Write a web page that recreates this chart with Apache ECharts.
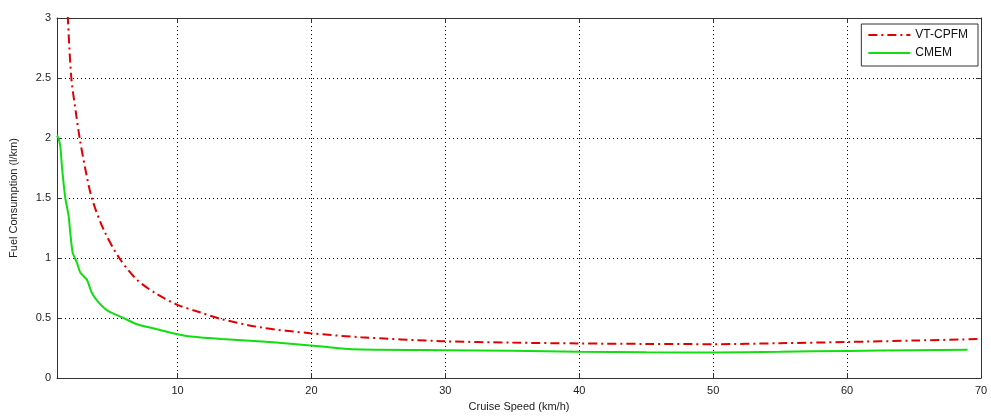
<!DOCTYPE html>
<html>
<head>
<meta charset="utf-8">
<script src="https://cdn.jsdelivr.net/npm/echarts@6/dist/echarts.min.js"></script>
<style>html,body{margin:0;padding:0;background:#fff}#c{width:991px;height:417px}</style>
</head>
<body>
<div id="c"></div>
<script>
// Data
const vtSpeed = [1.8, 2.07, 2.4, 2.69, 3.1, 3.6, 4.47, 5.65, 6.96, 8.45, 10, 11.6, 13.3, 16.3, 19.9, 23.7, 29.7, 35, 40, 45, 50, 55, 60, 65, 70];
const vtFuel  = [3.02, 2.5, 2.22, 2.0, 1.75, 1.5, 1.24, 1.0, 0.82, 0.70, 0.61, 0.55, 0.49, 0.42, 0.373, 0.34, 0.307, 0.295, 0.288, 0.284, 0.282, 0.29, 0.30, 0.312, 0.325];
const cmSpeed = [1.0, 1.1, 1.25, 1.37, 1.62, 1.87, 1.99, 2.17, 2.49, 2.74, 3.23, 3.6, 4.1, 4.8, 5.97, 6.96, 8.45, 10, 11, 13.3, 16.3, 18, 21, 23, 30, 35, 40, 45, 50, 55, 60, 65, 69];
const cmFuel  = [2.02, 2.0, 1.93, 1.76, 1.5, 1.35, 1.21, 1.045, 0.96, 0.88, 0.82, 0.71, 0.63, 0.56, 0.50, 0.448, 0.407, 0.365, 0.345, 0.324, 0.305, 0.29, 0.26, 0.24, 0.232, 0.227, 0.218, 0.214, 0.213, 0.218, 0.226, 0.232, 0.235];
const xTicks = [10, 20, 30, 40, 50, 60, 70];
const seriesNames = ['VT-CPFM', 'CMEM'];

const zip = (a, b) => a.map((v, i) => [v, b[i]]);
const font = 'Liberation Sans, Arial, sans-serif';
const axisColor = '#333';
const chart = echarts.init(document.getElementById('c'), null, {renderer: 'canvas'});
const gridLine = {show: true, lineStyle: {color: '#000', type: [1, 3], width: 1}};
chart.setOption({
  animation: false,
  backgroundColor: '#fff',
  grid: {left: 55, right: 10, top: 18, bottom: 38, containLabel: false},
  legend: {
    orient: 'vertical', right: 13, top: 24,
    data: seriesNames,
    itemWidth: 42, itemHeight: 12, itemGap: 6,
    padding: [5, 10, 7, 6],
    borderColor: '#333', borderWidth: 1, backgroundColor: '#fff',
    itemStyle: {opacity: 0},
    textStyle: {fontFamily: font, fontSize: 12, color: '#111'}
  },
  xAxis: [{
    type: 'value', min: 1, max: 70,
    name: 'Cruise Speed (km/h)', nameLocation: 'middle', nameGap: 23,
    nameTextStyle: {fontFamily: font, fontSize: 11, color: '#222'},
    axisLine: {show: true, lineStyle: {color: axisColor, width: 1}},
    axisTick: {show: true, inside: true, length: 5, customValues: xTicks, lineStyle: {color: axisColor}},
    axisLabel: {customValues: xTicks, fontFamily: font, fontSize: 11, color: '#222', margin: 7},
    splitLine: gridLine
  }, {
    type: 'value', min: 1, max: 70, position: 'top',
    axisLine: {show: true, onZero: false, lineStyle: {color: axisColor, width: 1}},
    axisTick: {show: true, inside: true, length: 5, customValues: xTicks, lineStyle: {color: axisColor}},
    axisLabel: {show: false, customValues: xTicks},
    splitLine: {show: false}
  }],
  yAxis: [{
    type: 'value', min: 0, max: 3, interval: 0.5,
    name: 'Fuel Consumption (l/km)', nameLocation: 'middle', nameGap: 38,
    nameTextStyle: {fontFamily: font, fontSize: 11, color: '#222'},
    axisLine: {show: true, lineStyle: {color: axisColor, width: 1}},
    axisTick: {show: true, inside: true, length: 5, lineStyle: {color: axisColor}},
    axisLabel: {fontFamily: font, fontSize: 11, color: '#222', margin: 6},
    splitLine: gridLine
  }, {
    type: 'value', min: 0, max: 3, interval: 0.5, position: 'right',
    axisLine: {show: true, onZero: false, lineStyle: {color: axisColor, width: 1}},
    axisTick: {show: true, inside: true, length: 5, lineStyle: {color: axisColor}},
    axisLabel: {show: false},
    splitLine: {show: false}
  }],
  series: [{
    name: seriesNames[0], type: 'line', data: zip(vtSpeed, vtFuel),
    showSymbol: false, symbol: 'none', smooth: 0.3, clip: true,
    lineStyle: {color: '#e00000', width: 2, type: [9, 4, 2, 4]},
    itemStyle: {color: '#e00000'}
  }, {
    name: seriesNames[1], type: 'line', data: zip(cmSpeed, cmFuel),
    showSymbol: false, symbol: 'none', smooth: 0.2, clip: true,
    lineStyle: {color: '#11dd11', width: 2, type: 'solid'},
    itemStyle: {color: '#11dd11'}
  }]
});
</script>
</body>
</html>
